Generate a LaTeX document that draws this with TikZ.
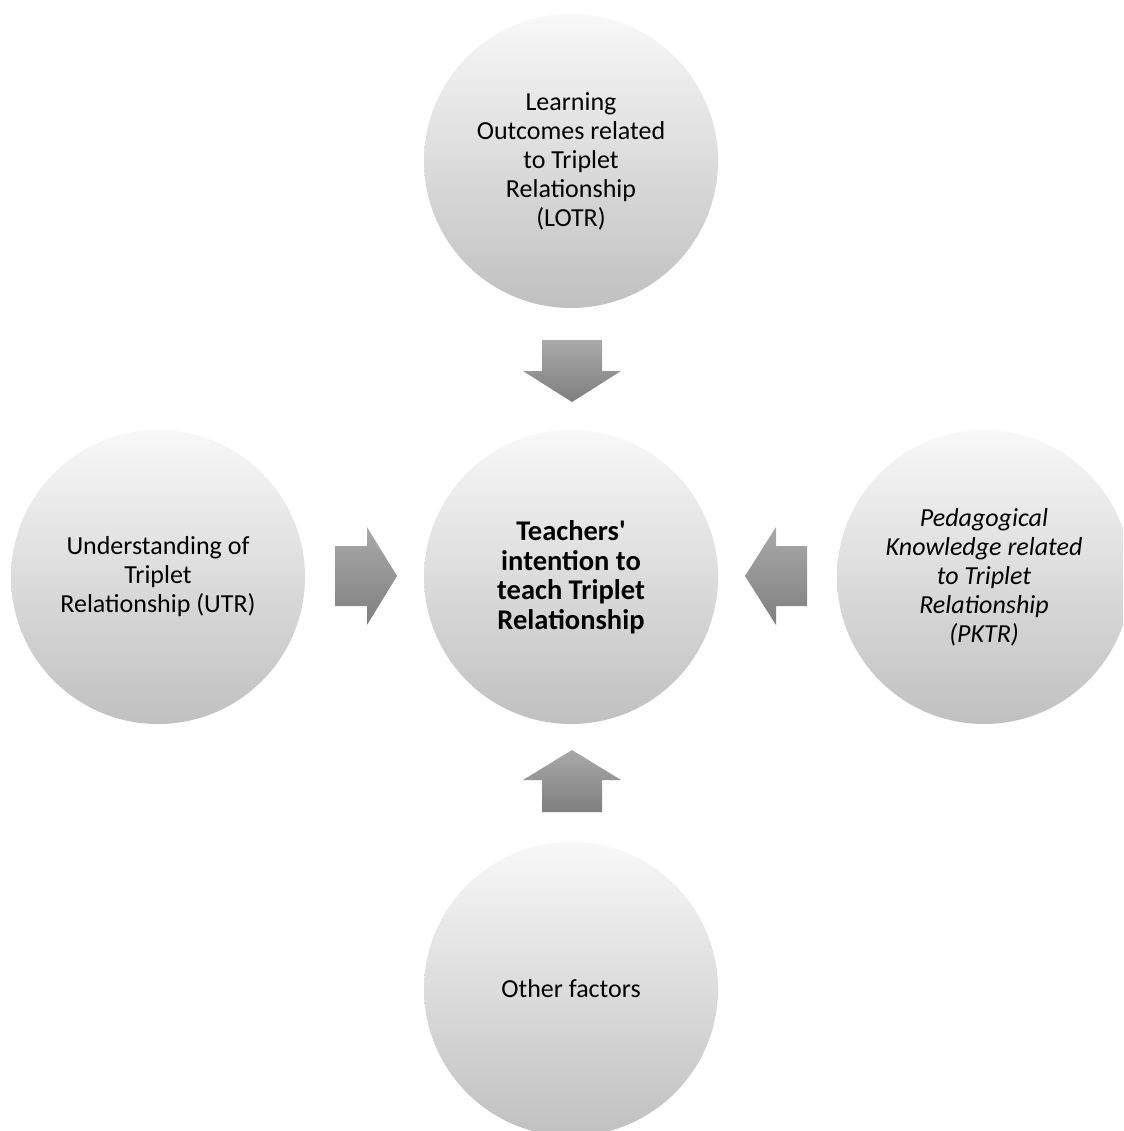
\documentclass[tikz,border=0pt]{standalone}
\usepackage{fontspec}
\setmainfont{Carlito}
\usetikzlibrary{calc}
\definecolor{circtop}{HTML}{F8F8F8}
\definecolor{circbot}{HTML}{C0C0C0}
\definecolor{arrtop}{HTML}{A9A9A9}
\definecolor{arrbot}{HTML}{7F7F7F}
\begin{document}
\begin{tikzpicture}[x=1pt,y=-1pt,
  bubble/.style={circle,minimum size=294pt,inner sep=0pt,top color=circtop,bottom color=circbot,
    align=center,font=\fontsize{26}{29}\selectfont,text=black},
  boldbubble/.style={bubble,font=\fontsize{28.5}{29.5}\selectfont\bfseries},
  blockarrow/.style={top color=arrtop,bottom color=arrbot,draw=none}]
\path[use as bounding box,fill=white] (0,0) rectangle (1123,1131);
\clip (0,0) rectangle (1123,1131);
\node[boldbubble] (mid) at (571,577) {Teachers\textquotesingle\\intention to\\teach Triplet\\Relationship};
\node[bubble] (top) at (571,161) {Learning\\Outcomes related\\to Triplet\\Relationship\\(LOTR)};
\node[bubble] (left) at (158,577) {Understanding of\\Triplet\\Relationship (UTR)};
\node[bubble,font=\fontsize{26}{29}\selectfont\itshape] (right) at (984,577) {Pedagogical\\Knowledge related\\to Triplet\\Relationship\\(PKTR)};
\node[bubble] (bot) at (571,989) {Other factors};
% arrow anchors
\coordinate (aT) at (572,371);
\coordinate (aB) at (572,780);
\coordinate (aL) at (367,575);
\coordinate (aR) at (776,575);
\shade[blockarrow] (aT) ++(-30,-31) -- ++(60,0) -- ++(0,31) -- ++(19,0) -- ++(-49,31) -- ++(-49,-31) -- ++(19,0) -- cycle;
\shade[blockarrow] (aB) ++(-30,32) -- ++(60,0) -- ++(0,-32) -- ++(19,0) -- ++(-49,-30) -- ++(-49,30) -- ++(19,0) -- cycle;
\shade[blockarrow] (aL) ++(-32,-29) -- ++(32,0) -- ++(0,-19) -- ++(30,49) -- ++(-30,49) -- ++(0,-19) -- ++(-32,0) -- cycle;
\shade[blockarrow] (aR) ++(31,-29) -- ++(-31,0) -- ++(0,-19) -- ++(-31,49) -- ++(31,49) -- ++(0,-19) -- ++(31,0) -- cycle;
\end{tikzpicture}
\end{document}
